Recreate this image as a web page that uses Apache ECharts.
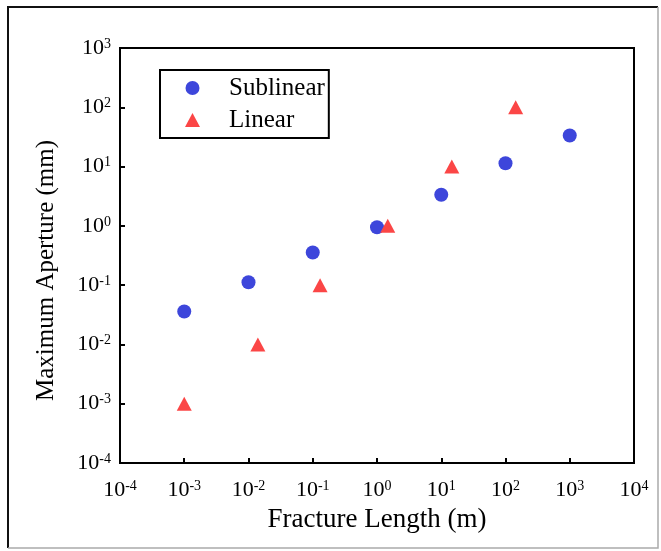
<!DOCTYPE html>
<html>
<head>
<meta charset="utf-8">
<style>
  html, body { margin: 0; padding: 0; background: #fff; }
  #chart { width: 661px; height: 551px; }
</style>
<script src="https://cdn.jsdelivr.net/npm/echarts@6/dist/echarts.min.js"></script>
</head>
<body>
<div id="chart"></div>
<script>
// Fracture length (m) vs maximum aperture (mm), log-log
const sublinearLength = [0.001, 0.01, 0.1, 1, 10, 100, 1000];
const sublinearAperture = [0.036, 0.112, 0.355, 0.95, 3.34, 11.4, 33.5];
const linearLength = [0.001, 0.014, 0.13, 1.47, 14.6, 144];
const linearAperture = [0.001, 0.01, 0.1, 1, 10, 100];

const FONT = '"Liberation Serif", "Times New Roman", serif';

function pairs(xs, ys) {
  return xs.map((x, i) => [x, ys[i]]);
}

function powerLabel(v) {
  const e = Math.round(Math.log10(v));
  return '{b|10}{s|' + e + '}';
}

const labelRich = {
  b: { fontFamily: FONT, fontSize: 22, color: '#000' },
  s: { fontFamily: FONT, fontSize: 14, color: '#000', verticalAlign: 'top' }
};

const chart = echarts.init(document.getElementById('chart'), null, { renderer: 'canvas' });

chart.setOption({
  backgroundColor: '#fff',
  animation: false,
  grid: {
    left: 120, right: 27, top: 48, bottom: 88,
    show: true, borderColor: '#000', borderWidth: 2, backgroundColor: 'transparent'
  },
  legend: {
    orient: 'vertical',
    left: 160, top: 70,
    padding: [5, 4, 5, 25],
    itemGap: 6,
    itemWidth: 15, itemHeight: 14,
    borderColor: '#000', borderWidth: 2,
    backgroundColor: '#fff',
    textStyle: { fontFamily: FONT, fontSize: 25, color: '#000', lineHeight: 26, padding: [0, 0, 0, 24] },
    data: ['Sublinear', 'Linear']
  },
  xAxis: {
    type: 'log', logBase: 10, min: 1e-4, max: 1e4, splitNumber: 8,
    name: 'Fracture Length (m)', nameLocation: 'middle', nameGap: 43,
    nameTextStyle: { fontFamily: FONT, fontSize: 27, color: '#000' },
    axisLine: { show: true, lineStyle: { color: '#000', width: 2 } },
    axisTick: { show: true, inside: true, length: 5, lineStyle: { color: '#000', width: 2 } },
    minorTick: { show: false },
    splitLine: { show: false },
    axisLabel: { margin: 16, formatter: powerLabel, rich: labelRich }
  },
  yAxis: {
    type: 'log', logBase: 10, min: 1e-4, max: 1e3, splitNumber: 7,
    name: 'Maximum Aperture (mm)', nameLocation: 'middle', nameGap: 61,
    nameTextStyle: { fontFamily: FONT, fontSize: 25, color: '#000', padding: [0, 30, 0, 0] },
    axisLine: { show: true, lineStyle: { color: '#000', width: 2 } },
    axisTick: { show: true, inside: true, length: 5, lineStyle: { color: '#000', width: 2 } },
    minorTick: { show: false },
    splitLine: { show: false },
    axisLabel: { margin: 9, formatter: powerLabel, rich: labelRich }
  },
  series: [
    {
      name: 'Sublinear', type: 'scatter',
      symbol: 'circle', symbolSize: 14,
      itemStyle: { color: '#3D46DB', opacity: 1 },
      data: pairs(sublinearLength, sublinearAperture)
    },
    {
      name: 'Linear', type: 'scatter',
      symbol: 'triangle', symbolSize: [15, 14],
      itemStyle: { color: '#FB4646', opacity: 1 },
      data: pairs(linearLength, linearAperture)
    }
  ],
  graphic: [
    { type: 'polyline', silent: true, shape: { points: [[8, 548], [8, 7], [658, 7]] },
      style: { stroke: '#111', lineWidth: 2, fill: null } },
    { type: 'polyline', silent: true, shape: { points: [[658, 7], [658, 548], [8, 548]] },
      style: { stroke: '#aaa', lineWidth: 1.5, fill: null } }
  ]
});
</script>
</body>
</html>
